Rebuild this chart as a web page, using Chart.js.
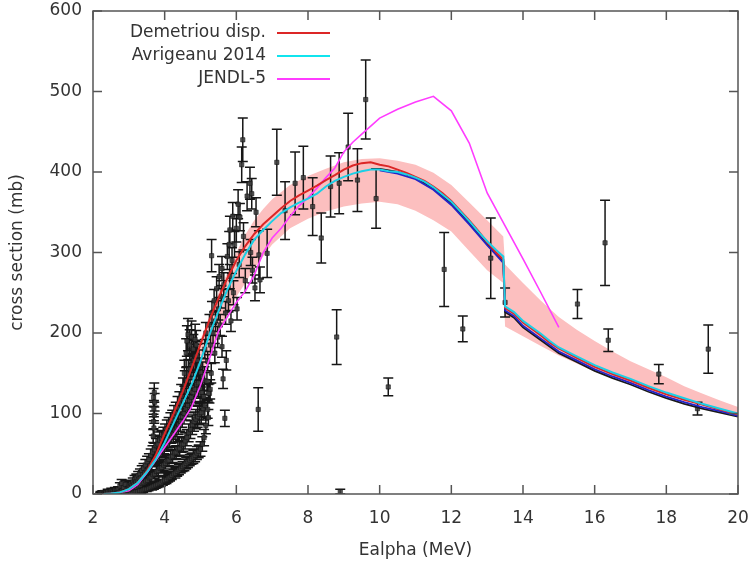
<!DOCTYPE html>
<html>
<head>
<meta charset="utf-8">
<script src="https://cdn.jsdelivr.net/npm/chart.js@4.4.1/dist/chart.umd.min.js"></script>
<style>
  html, body { margin: 0; padding: 0; background: #fff; }
  #wrap { width: 751px; height: 564px; }
</style>
</head>
<body>
<div id="wrap"><canvas id="CrossSection" width="751" height="564"></canvas></div>
<script>
//
// Theory curves (same energy grid for Demetriou / Avrigeanu)
var energy_theory = [2.3, 2.5, 2.75, 3, 3.25, 3.5, 3.75, 4, 4.25, 4.5,
    4.75, 5, 5.25, 5.5, 5.75, 6, 6.25, 6.5, 6.75, 7,
    7.25, 7.5, 7.75, 8, 8.25, 8.5, 8.75, 9, 9.25, 9.5,
    9.75, 10, 10.25, 10.5, 10.75, 11, 11.25, 11.5, 11.75, 12,
    12.25, 12.5, 12.75, 13, 13.25, 13.45, 13.5, 13.75, 14, 14.25,
    14.5, 14.75, 15, 15.5, 16, 16.5, 17, 17.5, 18, 18.5,
    19, 19.5, 20];
var demetriou = [0, 0.5, 2, 6, 14, 28, 48, 75, 100, 127,
    156, 186, 216, 243, 268, 290, 308, 323, 335, 345,
    355, 364, 371, 377, 383, 390, 396, 403, 408, 411,
    412, 409, 407, 403, 399, 394, 389, 382, 374, 364,
    352, 340, 327, 313, 300, 291, 231, 224, 213, 205,
    197, 188, 181, 169, 158, 149, 141, 132, 124, 117,
    111, 105, 99];
var avrigeanu = [0, 0.5, 2, 6, 14, 27, 43, 64, 88, 112,
    136, 165, 198, 227, 254, 277, 298, 316, 328, 339,
    349, 356, 362, 367, 373, 382, 389, 394, 398, 401,
    403, 403, 401, 400, 397, 393, 388, 381, 372, 363,
    351, 339, 326, 314, 303, 295, 233, 226, 215, 207,
    199, 190, 182, 171, 160, 151, 143, 134, 126, 119,
    112, 106, 100];

//
// Unlabelled companion curves (visible in the falling part)
var energy_tail = [10, 10.5, 11, 11.5, 12, 12.5, 13, 13.25, 13.45, 13.5,
    13.75, 14, 14.5, 15, 15.5, 16, 16.5, 17, 17.5, 18,
    18.5, 19, 19.5, 20];
var tail_blue = [402, 398, 391, 378, 359, 335, 309, 297, 287, 228,
    221, 209, 193, 177, 166, 155, 146, 138, 129, 121,
    114, 108, 103, 97];
var tail_black = [404, 400, 393, 380, 361, 337, 310, 298, 289, 226,
    219, 207, 191, 175, 164, 153, 144, 136, 127, 119,
    112, 106, 101, 96];

//
// JENDL-5
var energy_jendl = [2.3, 2.6, 3, 3.25, 3.5, 3.75, 4, 4.25, 4.5, 4.75,
    5, 5.25, 5.5, 5.75, 6, 6.25, 6.5, 6.75, 7, 7.25,
    7.5, 7.75, 8, 8.25, 8.5, 8.75, 9, 9.25, 9.5, 10,
    10.5, 11, 11.5, 12, 12.5, 13, 13.5, 14, 14.5, 15];
var jendl = [0, 1, 4, 12, 26, 42, 58, 74, 90, 108,
    135, 168, 202, 220, 238, 252, 272, 300, 318, 330,
    345, 358, 368, 380, 393, 405, 425, 437, 447, 467,
    478, 487, 494, 476, 436, 374, 333, 292, 250, 207];

//
// Uncertainty band
var energy_band = [2.3, 2.5, 3, 3.5, 4, 4.5, 5, 5.5, 6, 6.25,
    6.5, 6.75, 7, 7.5, 8, 8.5, 9, 9.5, 10, 10.5,
    11, 11.5, 12, 12.5, 13, 13.45, 13.5, 14, 14.5, 15,
    15.5, 16, 16.5, 17, 17.5, 18, 18.5, 19, 19.5, 20];
var band_low = [0, 0, 4, 24, 60, 100, 145, 198, 245, 262,
    280, 295, 310, 330, 342, 351, 357, 361, 363, 360,
    352, 340, 326, 302, 278, 262, 208, 196, 184, 172,
    162, 152, 145, 138, 130, 123, 116, 110, 103, 96];
var band_high = [0, 1, 8, 32, 80, 135, 192, 250, 300, 322,
    340, 354, 366, 384, 395, 404, 412, 416, 417, 414,
    409, 399, 384, 362, 340, 320, 285, 262, 240, 220,
    204, 190, 177, 165, 155, 145, 134, 125, 116, 108];

//
// Measurements near threshold
var low_energy = [2.20, 2.21, 2.25, 2.26, 2.30, 2.31, 2.35, 2.36, 2.40, 2.41,
    2.45, 2.46, 2.50, 2.51, 2.55, 2.56, 2.60, 2.61, 2.65, 2.66,
    2.70, 2.71, 2.75, 2.76, 2.80, 2.81, 2.85, 2.86, 2.90, 2.91,
    2.95, 2.96];
var low_sigma = [0, 1, 0, 2, 1, 0, 0, 2, 1, 3,
    2, 0, 1, 4, 3, 1, 2, 5, 4, 1,
    6, 2, 10, 3, 13, 4, 8, 2, 12, 3,
    6, 2];
var low_error = [2, 2, 2, 2, 2, 2, 2, 2, 2, 3,
    2, 2, 2, 3, 3, 2, 2, 3, 3, 2,
    3, 2, 4, 3, 5, 3, 4, 2, 4, 3,
    3, 2];

//
// Dense measurements on the rising edge (4 per energy)
var rise_energy = [3.00, 3.02, 2.99, 3.01, 3.05, 3.07, 3.04, 3.06, 3.10, 3.12, 3.09, 3.11,
    3.15, 3.17, 3.14, 3.16, 3.20, 3.22, 3.19, 3.21, 3.25, 3.27, 3.24, 3.26,
    3.30, 3.32, 3.29, 3.31, 3.35, 3.37, 3.34, 3.36, 3.40, 3.42, 3.39, 3.41,
    3.45, 3.47, 3.44, 3.46, 3.50, 3.52, 3.49, 3.51, 3.55, 3.57, 3.54, 3.56,
    3.60, 3.62, 3.59, 3.61, 3.65, 3.67, 3.64, 3.66, 3.70, 3.72, 3.69, 3.71,
    3.75, 3.77, 3.74, 3.76, 3.80, 3.82, 3.79, 3.81, 3.85, 3.87, 3.84, 3.86,
    3.90, 3.92, 3.89, 3.91, 3.95, 3.97, 3.94, 3.96, 4.00, 4.02, 3.99, 4.01,
    4.05, 4.07, 4.04, 4.06, 4.10, 4.12, 4.09, 4.11, 4.15, 4.17, 4.14, 4.16,
    4.20, 4.22, 4.19, 4.21, 4.25, 4.27, 4.24, 4.26, 4.30, 4.32, 4.29, 4.31,
    4.35, 4.37, 4.34, 4.36, 4.40, 4.42, 4.39, 4.41, 4.45, 4.47, 4.44, 4.46,
    4.50, 4.52, 4.49, 4.51, 4.55, 4.57, 4.54, 4.56, 4.60, 4.62, 4.59, 4.61,
    4.65, 4.67, 4.64, 4.66, 4.70, 4.72, 4.69, 4.71, 4.75, 4.77, 4.74, 4.76,
    4.80, 4.82, 4.79, 4.81, 4.85, 4.87, 4.84, 4.86, 4.90, 4.92, 4.89, 4.91,
    4.95, 4.97, 4.94, 4.96, 5.00, 5.02, 4.99, 5.01, 5.05, 5.07, 5.04, 5.06,
    5.10, 5.12, 5.09, 5.11];
var rise_sigma = [1, 4, 8, 11, 1, 6, 9, 13, 2, 6, 11, 15,
    2, 8, 12, 18, 3, 8, 15, 20, 3, 10, 16, 23,
    4, 11, 19, 25, 4, 13, 20, 29, 5, 14, 24, 32,
    6, 16, 26, 36, 6, 17, 29, 40, 7, 20, 31, 43,
    8, 21, 35, 48, 9, 24, 37, 52, 10, 25, 41, 55,
    11, 28, 43, 60, 12, 29, 47, 62, 13, 32, 49, 67,
    14, 33, 53, 69, 16, 36, 55, 73, 17, 38, 59, 76,
    18, 41, 62, 81, 20, 42, 66, 84, 21, 46, 68, 89,
    23, 47, 73, 92, 25, 51, 75, 97, 26, 52, 79, 101,
    28, 56, 82, 107, 30, 57, 86, 113, 32, 61, 90, 121,
    34, 62, 96, 128, 36, 66, 100, 136, 38, 70, 106, 141,
    40, 76, 110, 149, 42, 80, 116, 155, 44, 86, 120, 161,
    46, 90, 126, 166, 48, 93, 130, 171, 51, 96, 136, 166,
    53, 99, 138, 160, 56, 101, 131, 151, 62, 106, 126, 146,
    70, 110, 121, 141];
var rise_error = [2, 3, 4, 4, 2, 3, 4, 4, 2, 3, 4, 5,
    2, 4, 4, 5, 3, 4, 5, 5, 3, 4, 5, 5,
    3, 4, 5, 6, 3, 4, 5, 6, 3, 4, 5, 6,
    3, 5, 6, 7, 3, 5, 6, 7, 3, 5, 6, 7,
    3, 5, 7, 8, 4, 5, 7, 8, 4, 5, 7, 8,
    4, 6, 7, 9, 4, 6, 8, 9, 4, 6, 8, 10,
    4, 6, 8, 10, 5, 7, 8, 10, 5, 7, 9, 11,
    5, 7, 9, 11, 5, 7, 10, 11, 5, 8, 10, 12,
    5, 8, 10, 12, 5, 8, 11, 13, 6, 8, 11, 13,
    6, 9, 11, 14, 6, 9, 12, 14, 6, 9, 12, 15,
    6, 9, 13, 16, 7, 10, 13, 17, 7, 10, 14, 17,
    7, 11, 14, 18, 7, 11, 15, 18, 7, 12, 15, 19,
    8, 12, 16, 20, 8, 12, 16, 20, 8, 13, 17, 20,
    8, 13, 17, 19, 9, 13, 16, 18, 9, 14, 16, 18,
    10, 14, 15, 17];

//
// Stacked points around 3.7 MeV and the spike near 4.7 MeV
var stack_energy = [3.68, 3.70, 3.69, 3.71, 3.70, 3.72, 3.69, 3.71,
    4.55, 4.60, 4.62, 4.65, 4.70, 4.75, 4.80, 4.85, 4.88, 4.90,
    5.15, 5.20, 5.25, 5.22, 5.27];
var stack_sigma = [72, 82, 90, 98, 106, 114, 120, 126,
    150, 175, 190, 198, 185, 195, 180, 192, 185, 172,
    85, 105, 125, 95, 130];
var stack_error = [8, 9, 9, 10, 10, 11, 11, 12,
    16, 18, 19, 20, 19, 20, 18, 19, 18, 17,
    10, 11, 12, 10, 12];

//
// Measurements 5 - 7 MeV
var mid_energy = [5.12, 5.15, 5.18, 5.20, 5.22, 5.25, 5.28, 5.30, 5.32, 5.35,
    5.38, 5.40, 5.42, 5.45, 5.48, 5.50, 5.52, 5.55, 5.58, 5.60,
    5.60, 5.63, 5.68, 5.65, 5.70, 5.72, 5.75, 5.78, 5.80, 5.82,
    5.82, 5.85, 5.88, 5.90, 5.92, 5.95, 6.00, 6.02, 6.05, 6.08,
    6.10, 6.15, 6.18, 6.20, 6.25, 6.30, 6.38, 6.40, 6.43, 6.45,
    6.52, 6.55, 6.61, 6.63, 6.66, 6.86, 5.31];
var mid_sigma = [180, 200, 140, 165, 125, 210, 185, 150, 225, 200,
    240, 175, 215, 255, 195, 230, 270, 210, 245, 280,
    183, 143, 94, 260, 225, 166, 295, 240, 310, 328,
    270, 215, 290, 345, 250, 310, 330, 230, 360, 285,
    344, 409, 440, 320, 265, 370, 386, 300, 373, 278,
    256, 350, 105, 297, 266, 299, 296];
var mid_error = [12, 13, 11, 12, 11, 13, 12, 12, 14, 13,
    14, 12, 13, 15, 13, 14, 15, 13, 14, 15,
    13, 12, 10, 15, 14, 12, 16, 14, 16, 17,
    15, 13, 16, 17, 15, 16, 17, 14, 18, 16,
    17, 22, 27, 17, 15, 18, 20, 16, 19, 16,
    16, 18, 27, 30, 16, 30, 20];

//
// Measurements above 7 MeV
var high_energy = [7.13, 7.36, 7.64, 7.87, 8.13, 8.37, 8.63, 8.80, 8.87, 8.90,
    9.12, 9.38, 9.61, 9.90, 10.24, 11.80, 12.32, 13.10, 13.50, 15.52,
    16.29, 16.38, 17.79, 18.87, 19.17];
var high_sigma = [412, 352, 386, 393, 357, 318, 382, 195, 386, 3,
    431, 390, 490, 367, 133, 279, 205, 293, 238, 236,
    312, 191, 149, 106, 180];
var high_error = [41, 36, 39, 39, 36, 31, 38, 34, 38, 3,
    42, 39, 49, 37, 11, 46, 16, 50, 18, 18,
    53, 14, 12, 8, 30];

var ready;
ready = function() {

    var cross_section = document.getElementById('CrossSection').getContext('2d');

    function points(xs, ys) {
        return xs.map(function(x, i) { return {x: x, y: ys[i]}; });
    }

    var exp_energy = low_energy.concat(rise_energy, stack_energy, mid_energy, high_energy);
    var exp_sigma = low_sigma.concat(rise_sigma, stack_sigma, mid_sigma, high_sigma);
    var exp_error = low_error.concat(rise_error, stack_error, mid_error, high_error);

    Chart.defaults.font.family = '"DejaVu Sans"';
    Chart.defaults.font.size = 17;
    Chart.defaults.color = '#333';

    //
    // Error bars under the markers
    var error_bars = {
        id: 'errorBars',
        beforeDatasetDraw: function(chart, args) {
            var ds = chart.data.datasets[args.index];
            if (!ds.errors) return;
            var x = chart.scales.x, y = chart.scales.y, c = chart.ctx, a = chart.chartArea;
            c.save();
            c.beginPath();
            c.rect(a.left, a.top, a.right - a.left, a.bottom - a.top);
            c.clip();
            c.strokeStyle = '#161616';
            c.lineWidth = 1.5;
            c.beginPath();
            ds.data.forEach(function(p, i) {
                var px = x.getPixelForValue(p.x);
                var top = y.getPixelForValue(p.y + ds.errors[i]);
                var bot = y.getPixelForValue(p.y - ds.errors[i]);
                c.moveTo(px, top); c.lineTo(px, bot);
                c.moveTo(px - 5, top); c.lineTo(px + 5, top);
                c.moveTo(px - 5, bot); c.lineTo(px + 5, bot);
            });
            c.stroke();
            c.restore();
        }
    };

    //
    // Gnuplot-like frame with inward ticks
    var frame = {
        id: 'frame',
        afterDatasetsDraw: function(chart) {
            var a = chart.chartArea, c = chart.ctx, x = chart.scales.x, y = chart.scales.y;
            c.save();
            c.strokeStyle = '#555';
            c.lineWidth = 1.5;
            c.strokeRect(a.left, a.top, a.right - a.left, a.bottom - a.top);
            c.beginPath();
            x.ticks.forEach(function(t) {
                var p = x.getPixelForValue(t.value);
                c.moveTo(p, a.bottom); c.lineTo(p, a.bottom - 9);
                c.moveTo(p, a.top); c.lineTo(p, a.top + 9);
            });
            y.ticks.forEach(function(t) {
                var p = y.getPixelForValue(t.value);
                c.moveTo(a.left, p); c.lineTo(a.left + 9, p);
                c.moveTo(a.right, p); c.lineTo(a.right - 9, p);
            });
            c.stroke();
            c.restore();
        }
    };

    //
    // Key: text right aligned, sample to the right
    var key = {
        id: 'key',
        afterDraw: function(chart) {
            var c = chart.ctx;
            c.save();
            c.font = '17px "DejaVu Sans"';
            c.textAlign = 'right';
            c.textBaseline = 'middle';
            chart.data.datasets.forEach(function(ds) {
                if (ds.keyRow === undefined) return;
                var yy = 33 + ds.keyRow * 23;
                c.fillStyle = '#333';
                c.fillText(ds.label, 266, yy);
                c.strokeStyle = ds.keyColor || ds.borderColor;
                c.lineWidth = 2;
                c.beginPath();
                c.moveTo(277, yy); c.lineTo(330, yy);
                c.stroke();
            });
            c.restore();
        }
    };

    //
    // Draw Chart
    new Chart(cross_section, {
        type: 'scatter',
        data: {
            datasets: [{
                type: 'line',
                label: 'band high',
                data: points(energy_band, band_high),
                borderWidth: 0,
                borderColor: 'rgba(0,0,0,0)',
                backgroundColor: '#fcbfbf',
                pointRadius: 0,
                fill: '+1',
                order: 10
            }, {
                type: 'line',
                label: 'band low',
                data: points(energy_band, band_low),
                borderWidth: 0,
                borderColor: 'rgba(0,0,0,0)',
                pointRadius: 0,
                fill: false,
                order: 10
            }, {
                label: 'data',
                data: points(exp_energy, exp_sigma),
                errors: exp_error,
                pointStyle: 'rect',
                pointRadius: 3,
                backgroundColor: 'rgba(60,60,60,0.85)',
                borderColor: 'rgba(20,20,20,0.6)',
                borderWidth: 1,
                order: 8
            }, {
                type: 'line',
                label: 'black',
                data: points(energy_tail, tail_black),
                borderColor: '#1a1a1a',
                borderWidth: 1.8,
                pointRadius: 0,
                fill: false,
                order: 6
            }, {
                type: 'line',
                label: 'blue',
                data: points(energy_tail, tail_blue),
                borderColor: '#2424c8',
                borderWidth: 1.8,
                pointRadius: 0,
                fill: false,
                order: 5
            }, {
                type: 'line',
                label: 'JENDL-5',
                data: points(energy_jendl, jendl),
                borderColor: '#ff3cff',
                borderWidth: 1.6,
                pointRadius: 0,
                fill: false,
                keyRow: 2,
                order: 4
            }, {
                type: 'line',
                label: 'Demetriou disp.',
                data: points(energy_theory, demetriou),
                borderColor: '#dc2626',
                borderWidth: 2,
                pointRadius: 0,
                fill: false,
                keyRow: 0,
                order: 3
            }, {
                type: 'line',
                label: 'Avrigeanu 2014',
                data: points(energy_theory, avrigeanu),
                borderColor: '#1ccfe6',
                keyColor: '#10e4ee',
                borderWidth: 2,
                pointRadius: 0,
                fill: false,
                keyRow: 1,
                order: 2
            }]
        },
        options: {
            responsive: false,
            animation: false,
            events: [],
            layout: { padding: { top: 11, right: 13, left: 0, bottom: 0 } },
            elements: { line: { tension: 0 } },
            plugins: {
                legend: { display: false },
                tooltip: { enabled: false },
                filler: { propagate: false }
            },
            scales: {
                x: {
                    type: 'linear',
                    min: 2,
                    max: 20,
                    ticks: { stepSize: 2, padding: 14 },
                    grid: { display: false, drawTicks: false },
                    border: { display: false },
                    title: { display: true, text: 'Ealpha (MeV)', padding: { top: 3, bottom: 3 } },
                    afterFit: function(s) {
                        s.height = 70;
                        s.paddingLeft = 0;
                        s.paddingRight = 0;
                    }
                },
                y: {
                    min: 0,
                    max: 600,
                    ticks: { stepSize: 100, padding: 11 },
                    grid: { display: false, drawTicks: false },
                    border: { display: false },
                    title: { display: true, text: 'cross section (mb)', padding: { top: 7, bottom: 4 } },
                    afterFit: function(s) {
                        s.width = 93;
                        s.paddingTop = 0;
                        s.paddingBottom = 0;
                    }
                }
            }
        },
        plugins: [error_bars, frame, key]
    });
};
ready();
</script>
</body>
</html>
